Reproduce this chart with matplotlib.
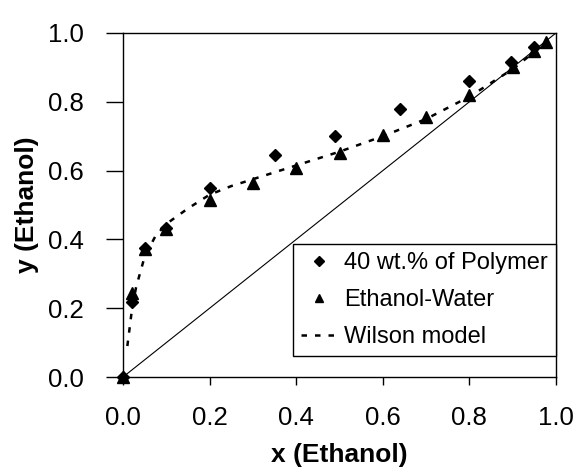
import matplotlib
matplotlib.use('Agg')
import matplotlib.pyplot as plt

plt.rcParams['font.family'] = ['Liberation Sans', 'DejaVu Sans']

# 40 wt.% of Polymer
x_poly = [0.0, 0.02, 0.05, 0.10, 0.20, 0.35, 0.49, 0.64, 0.80, 0.895, 0.95]
y_poly = [0.0, 0.219, 0.375, 0.434, 0.55, 0.645, 0.70, 0.778, 0.861, 0.915, 0.96]

# Ethanol-Water
x_ew = [0.0, 0.02, 0.05, 0.10, 0.20, 0.30, 0.40, 0.50, 0.60, 0.70, 0.80, 0.90, 0.95, 0.976]
y_ew = [0.0, 0.245, 0.371, 0.43, 0.515, 0.565, 0.607, 0.652, 0.703, 0.755, 0.82, 0.902, 0.948, 0.975]

# Wilson model
x_wil = [0.01, 0.02, 0.03, 0.05, 0.075, 0.10, 0.15, 0.20, 0.25, 0.30, 0.40, 0.50, 0.60, 0.70, 0.80, 0.90, 0.97]
y_wil = [0.09, 0.19, 0.26, 0.35, 0.41, 0.445, 0.49, 0.53, 0.555, 0.575, 0.615, 0.655, 0.70, 0.75, 0.815, 0.895, 0.965]

xticks = [0.0, 0.2, 0.4, 0.6, 0.8, 1.0]
yticks = [0.0, 0.2, 0.4, 0.6, 0.8, 1.0]

fig = plt.figure(figsize=(5.77, 4.68), dpi=100)
ax = fig.add_axes([0.2132, 0.1944, 0.7504, 0.7351])

ax.plot([0, 1], [0, 1], color='black', lw=0.8, zorder=1)
ax.plot(x_wil, y_wil, color='black', lw=1.8, dashes=(2.2, 3.2),
        label='Wilson model', zorder=2)
ax.plot(x_poly, y_poly, 'D', color='black', ms=6, ls='none',
        label='40 wt.% of Polymer', zorder=3, clip_on=False)
ax.plot(x_ew, y_ew, '^', color='black', ms=8, ls='none',
        label='Ethanol-Water', zorder=3, clip_on=False)

ax.set_xlim(0, 1.0)
ax.set_ylim(0, 1.0)
ax.set_xticks(xticks)
ax.set_yticks(yticks)
ax.set_xticklabels([f'{t:.1f}' for t in xticks])
ax.set_yticklabels([f'{t:.1f}' for t in yticks])
ax.tick_params(axis='x', direction='out', length=6, width=1, pad=15, labelsize=18.5)
ax.tick_params(axis='y', direction='out', length=12, width=1, pad=16, labelsize=18.5)
for s in ax.spines.values():
    s.set_linewidth(1.0)

ax.set_xlabel('x (Ethanol)', fontsize=19, fontweight='bold', va='center')
ax.set_ylabel('y (Ethanol)', fontsize=19, fontweight='bold', va='center')
ax.xaxis.set_label_coords(0.5, -0.227)
ax.yaxis.set_label_coords(-0.222, 0.5)

handles, labels = ax.get_legend_handles_labels()
order = [1, 2, 0]
leg = ax.legend([handles[i] for i in order], [labels[i] for i in order],
                loc='lower right', bbox_to_anchor=(1.0, 0.061), fontsize=17,
                frameon=True, fancybox=False, framealpha=1, edgecolor='black',
                markerscale=0.8, handlelength=1.5, handletextpad=0.3,
                borderaxespad=0, borderpad=0.35, labelspacing=0.62)
leg.get_frame().set_linewidth(1.0)

fig.savefig('out.png', dpi=100)
